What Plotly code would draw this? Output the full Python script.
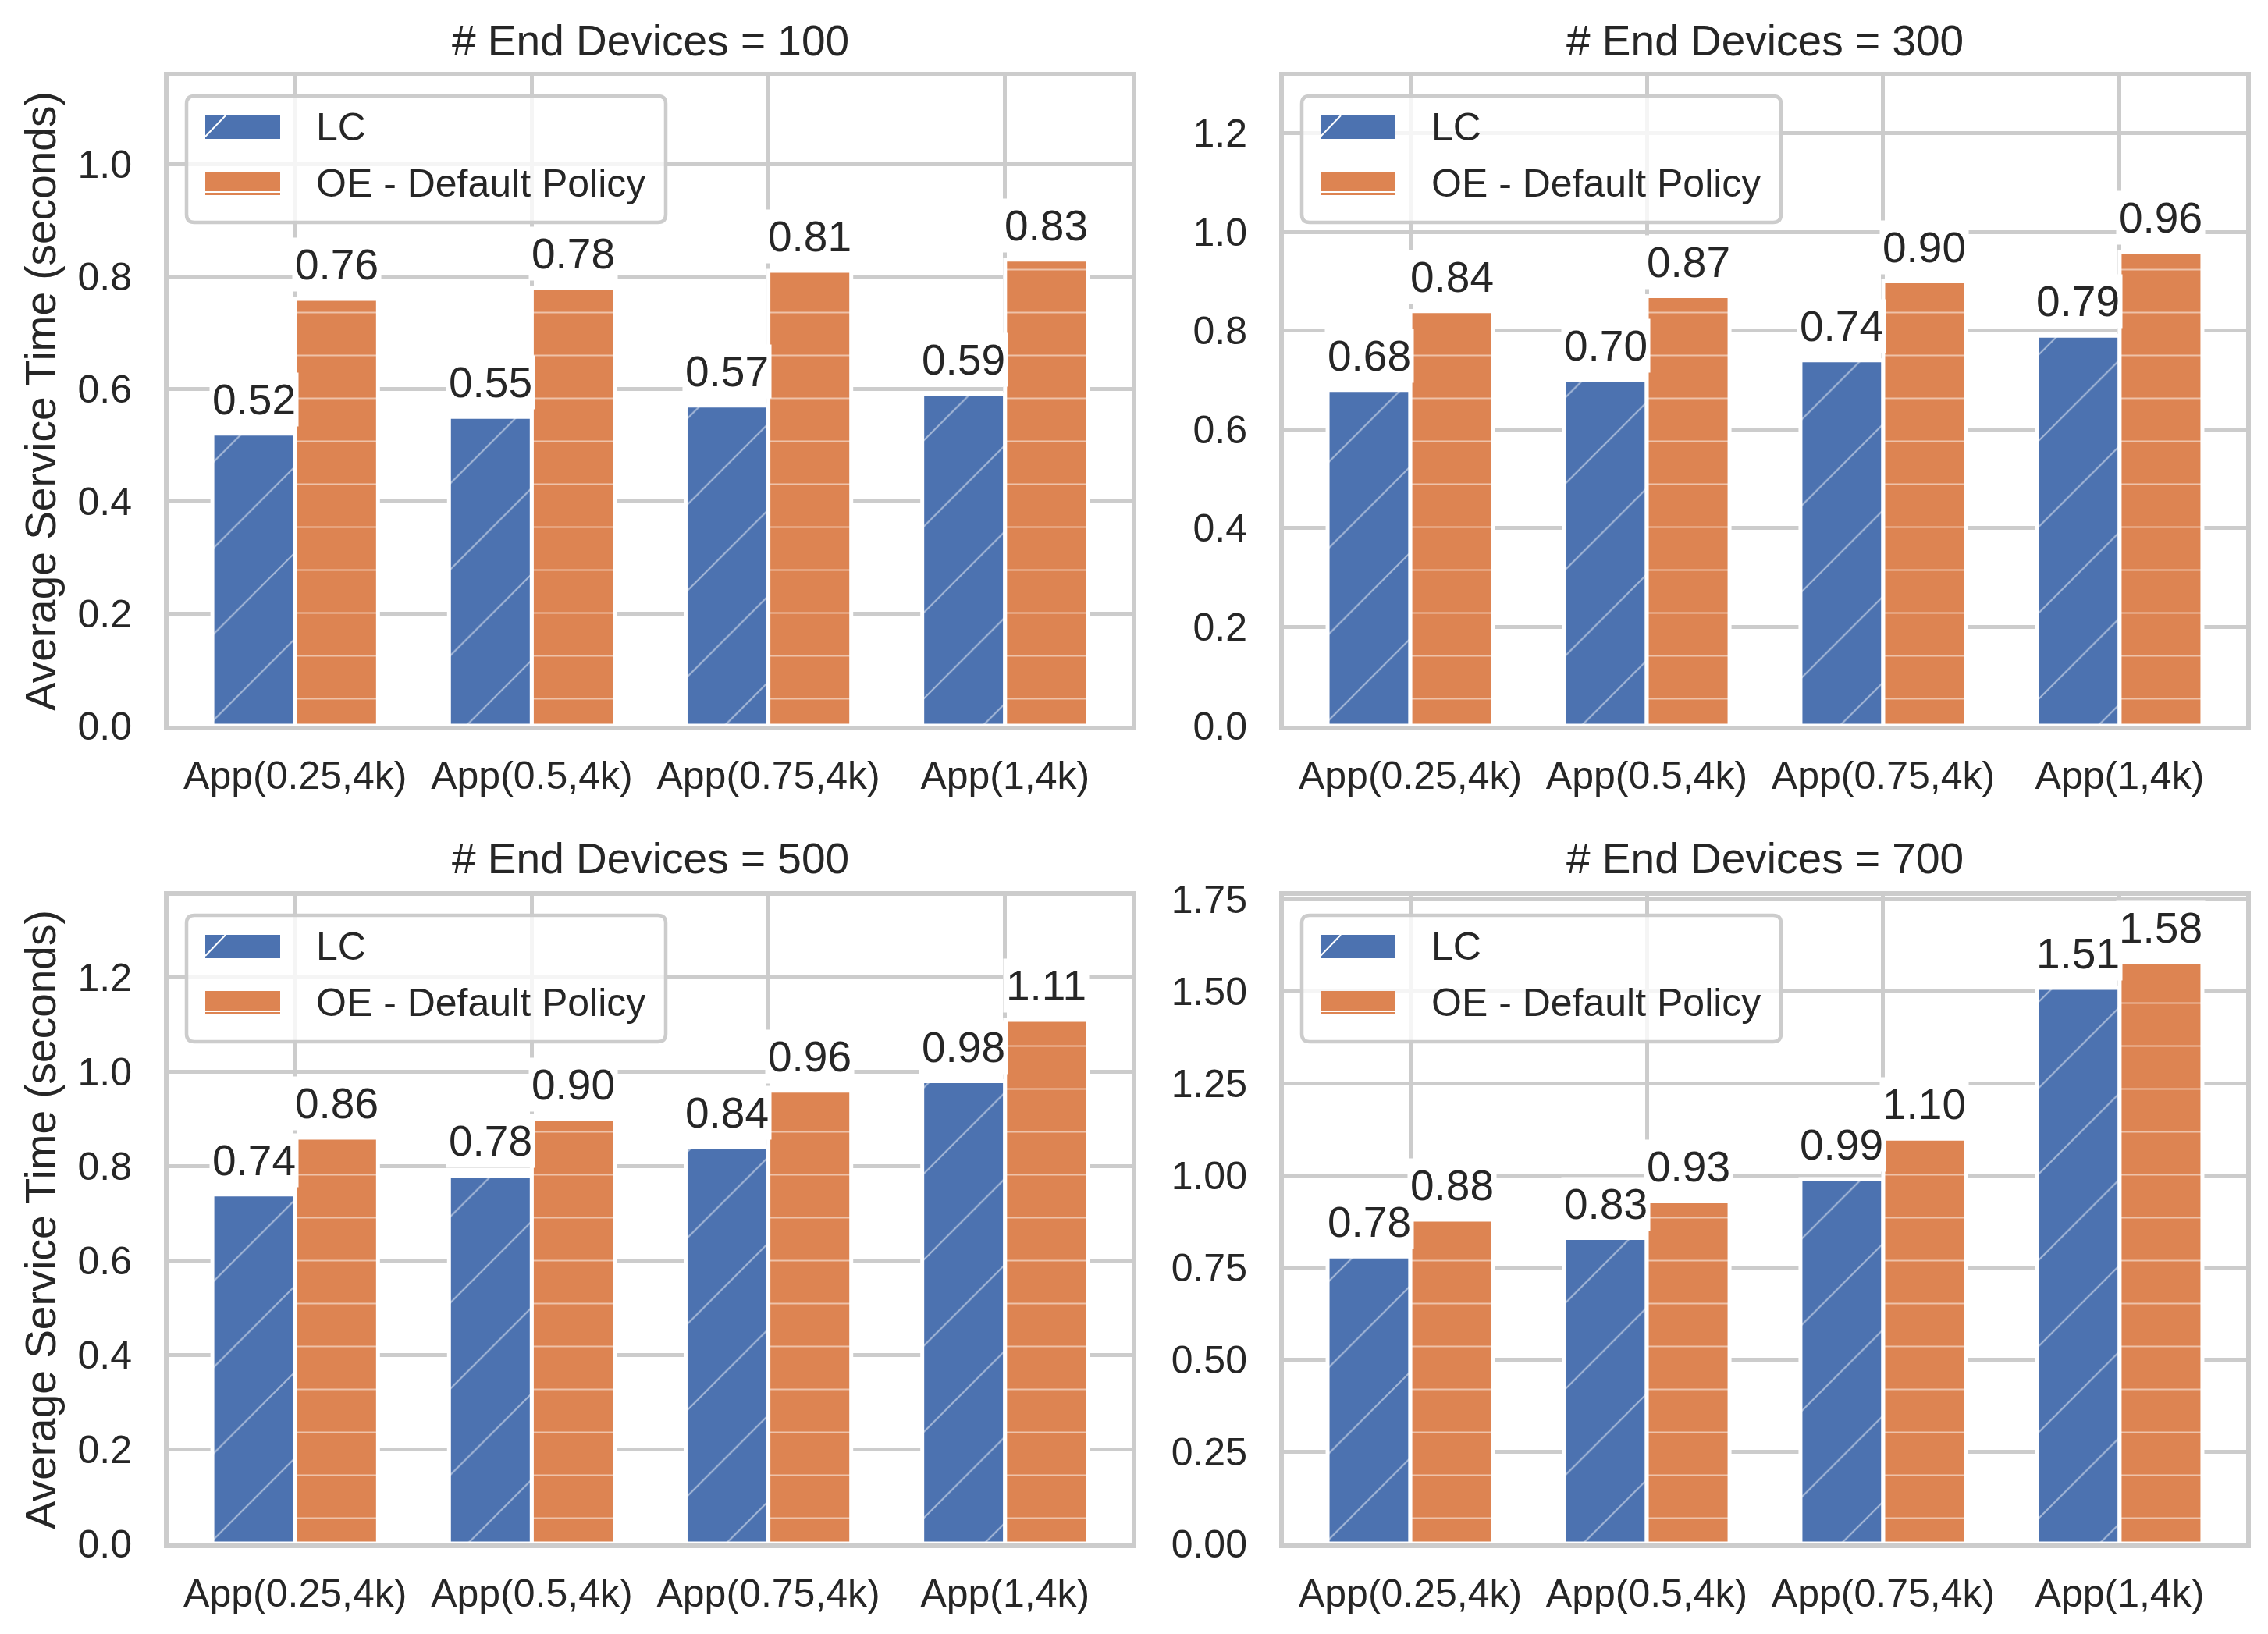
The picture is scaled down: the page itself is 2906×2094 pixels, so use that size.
import plotly.graph_objects as go

# ---------------- data ----------------
categories = ["App(0.25,4k)", "App(0.5,4k)", "App(0.75,4k)", "App(1,4k)"]
series_names = ["LC", "OE - Default Policy"]
device_counts = [100, 300, 500, 700]

lc_100 = [0.52, 0.55, 0.57, 0.59]
oe_100 = [0.76, 0.78, 0.81, 0.83]
lc_300 = [0.68, 0.70, 0.74, 0.79]
oe_300 = [0.84, 0.87, 0.90, 0.96]
lc_500 = [0.74, 0.78, 0.84, 0.98]
oe_500 = [0.86, 0.90, 0.96, 1.11]
lc_700 = [0.78, 0.83, 0.99, 1.51]
oe_700 = [0.88, 0.93, 1.10, 1.58]

lc_series = [lc_100, lc_300, lc_500, lc_700]
oe_series = [oe_100, oe_300, oe_500, oe_700]

# ---------------- style / layout ----------------
W, H = 2906, 2094
BLUE = "#4C72B0"
ORANGE = "#DD8452"
GRID = "#CCCCCC"
TXT = "#262626"
FONT = "Liberation Sans, Arial, sans-serif"

y_tops = [1.156, 1.315, 1.373, 1.76]
y_dticks = [0.2, 0.2, 0.2, 0.25]
y_formats = [".1f", ".1f", ".1f", ".2f"]

col_px = [(216, 1450), (1645, 2878)]
row_px = [(98, 930), (1148, 1978)]
title_px = [52, 1100]

BAR_W = 0.35


def px(x):
    return x / W


def py(y):
    return 1 - y / H


fig = go.Figure()
layout = dict(
    width=W, height=H,
    margin=dict(l=0, r=0, t=0, b=0, autoexpand=False),
    paper_bgcolor="white", plot_bgcolor="white",
    barmode="overlay",
    showlegend=False,
    font=dict(family=FONT, color=TXT, size=50),
)
annotations = []
shapes = []

for k, n in enumerate(device_counts):
    r, c = divmod(k, 2)
    sfx = "" if k == 0 else str(k + 1)
    xa, ya = "x" + sfx, "y" + sfx
    x0p, x1p = col_px[c]
    y0p, y1p = row_px[r]

    pos = list(range(len(categories)))
    lc_x = [p - BAR_W / 2 for p in pos]
    oe_x = [p + BAR_W / 2 for p in pos]

    fig.add_trace(go.Bar(
        x=lc_x, y=lc_series[k], width=BAR_W, name=series_names[0],
        xaxis=xa, yaxis=ya,
        marker=dict(color=BLUE, line=dict(color="white", width=5),
                    pattern=dict(shape="/", fgcolor="white", bgcolor=BLUE,
                                 size=78, solidity=0.026)),
    ))
    fig.add_trace(go.Bar(
        x=oe_x, y=oe_series[k], width=BAR_W, name=series_names[1],
        xaxis=xa, yaxis=ya,
        marker=dict(color=ORANGE, line=dict(color="white", width=5),
                    pattern=dict(shape="-", fgcolor="white", bgcolor=ORANGE,
                                 size=55, solidity=0.036)),
    ))

    # value labels
    for xs, vals in ((lc_x, lc_series[k]), (oe_x, oe_series[k])):
        for xv, v in zip(xs, vals):
            annotations.append(dict(
                x=xv, y=v, xref=xa, yref=ya, text=f"{v:.2f}",
                showarrow=False, yanchor="bottom", xanchor="center",
                yshift=9, bgcolor="white", borderpad=3,
                font=dict(size=55, color=TXT, family=FONT),
            ))

    axis_common = dict(
        showline=True, linecolor=GRID, linewidth=6, mirror=True,
        showgrid=True, gridcolor=GRID, gridwidth=4.5,
        zeroline=False, ticks="",
        tickfont=dict(size=50, color=TXT, family=FONT),
    )
    layout["xaxis" + sfx] = dict(
        axis_common, domain=[px(x0p), px(x1p)], anchor=ya,
        range=[-0.535, len(categories) - 1 + 0.535],
        tickvals=pos, ticktext=categories, ticklabelstandoff=15,
    )
    layout["yaxis" + sfx] = dict(
        axis_common, domain=[py(y1p), py(y0p)], anchor=xa,
        range=[0, y_tops[k]], dtick=y_dticks[k], tick0=0,
        tickformat=y_formats[k], ticklabelstandoff=31,
    )

    # subplot title
    annotations.append(dict(
        x=px((x0p + x1p) / 2), y=py(title_px[r]), xref="paper", yref="paper",
        text=f"# End Devices = {n}", showarrow=False,
        xanchor="center", yanchor="middle",
        font=dict(size=55, color=TXT, family=FONT),
    ))

    # y-axis label on left column
    if c == 0:
        annotations.append(dict(
            x=px(52), y=py((y0p + y1p) / 2), xref="paper", yref="paper",
            text="Average Service Time (seconds)", showarrow=False,
            textangle=-90, xanchor="center", yanchor="middle",
            font=dict(size=55, color=TXT, family=FONT),
        ))

    # legend (drawn as box + swatches + text)
    bl, br = x0p + 23, x0p + 637
    bt, bb = y0p + 25, y0p + 187
    rad = 10
    path = (
        f"M {px(bl + rad)},{py(bt)} L {px(br - rad)},{py(bt)} "
        f"Q {px(br)},{py(bt)} {px(br)},{py(bt + rad)} "
        f"L {px(br)},{py(bb - rad)} Q {px(br)},{py(bb)} {px(br - rad)},{py(bb)} "
        f"L {px(bl + rad)},{py(bb)} Q {px(bl)},{py(bb)} {px(bl)},{py(bb - rad)} "
        f"L {px(bl)},{py(bt + rad)} Q {px(bl)},{py(bt)} {px(bl + rad)},{py(bt)} Z"
    )
    shapes.append(dict(type="path", path=path, xref="paper", yref="paper",
                       fillcolor="rgba(255,255,255,0.8)",
                       line=dict(color=GRID, width=4.5), layer="above"))
    sw_l, sw_r = x0p + 47, x0p + 143
    for j, (name, col) in enumerate(zip(series_names, (BLUE, ORANGE))):
        st = y0p + 50 + 72 * j
        sb = st + 30
        shapes.append(dict(type="rect", xref="paper", yref="paper",
                           x0=px(sw_l), x1=px(sw_r), y0=py(sb), y1=py(st),
                           fillcolor=col, line=dict(width=0), layer="above"))
        if j == 0:
            shapes.append(dict(type="line", xref="paper", yref="paper",
                               x0=px(sw_l), y0=py(sb - 3), x1=px(sw_l + 26), y1=py(st),
                               line=dict(color="white", width=2), layer="above"))
        else:
            shapes.append(dict(type="line", xref="paper", yref="paper",
                               x0=px(sw_l), y0=py(sb - 4), x1=px(sw_r), y1=py(sb - 4),
                               line=dict(color="white", width=2), layer="above"))
        annotations.append(dict(
            x=px(x0p + 187), y=py(st + 15), xref="paper", yref="paper",
            text=name, showarrow=False, xanchor="left", yanchor="middle",
            font=dict(size=50, color=TXT, family=FONT),
        ))

layout["annotations"] = annotations
layout["shapes"] = shapes
fig.update_layout(**layout)
fig.write_html(
    "out.html",
    config={"displayModeBar": False},
    post_script="document.body.style.margin='0';document.body.style.overflow='hidden';",
)
